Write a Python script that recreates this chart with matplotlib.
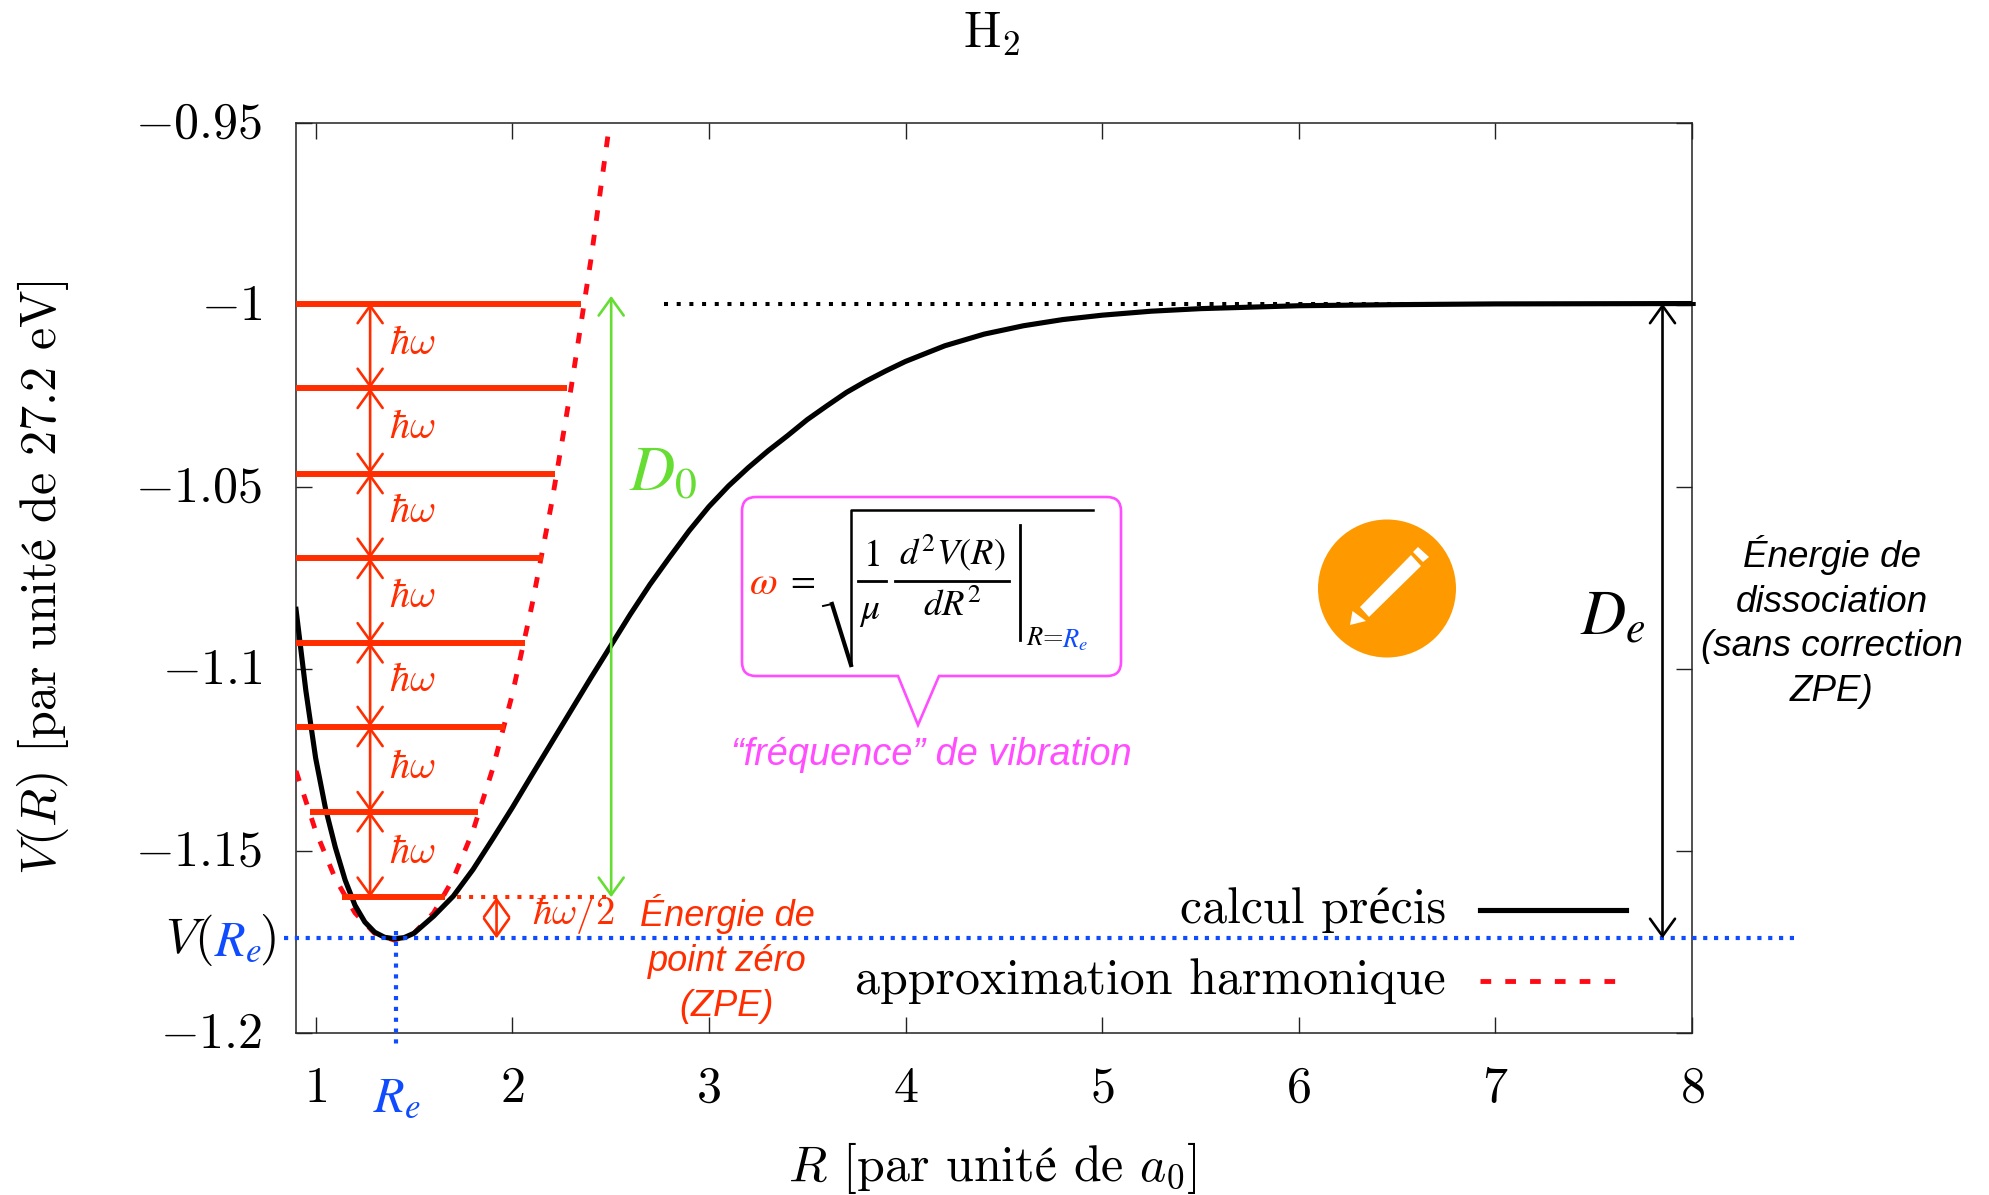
import matplotlib
matplotlib.use("Agg")
import matplotlib.pyplot as plt
from matplotlib.lines import Line2D
from matplotlib.patches import PathPatch, Circle, Polygon
from matplotlib.path import Path
from matplotlib.transforms import Affine2D
from matplotlib.font_manager import FontProperties

plt.rcParams['mathtext.fontset'] = 'cm'
plt.rcParams['font.family'] = ['cmr10', 'Liberation Serif']
plt.rcParams['axes.formatter.use_mathtext'] = True

# ---------- data ----------
R_exact = [0.90, 0.95, 1.00, 1.05, 1.10, 1.15, 1.20, 1.25, 1.30, 1.35, 1.40, 1.45, 1.50, 1.60, 1.70, 1.80, 1.90, 2.00,
           2.10, 2.20, 2.30, 2.40, 2.50, 2.60, 2.70, 2.80, 2.90, 3.00, 3.10, 3.20, 3.30, 3.40, 3.50, 3.60, 3.70, 3.80,
           3.90, 4.00, 4.20, 4.40, 4.60, 4.80, 5.00, 5.25, 5.50, 5.75, 6.00, 6.50, 7.00, 8.00]
V_exact = [-1.0836, -1.1059, -1.1245, -1.1383, -1.1490, -1.1580, -1.1649, -1.1695, -1.1723, -1.1737, -1.1741, -1.1738,
           -1.1726, -1.1679, -1.1624, -1.1551, -1.1467, -1.1381, -1.1291, -1.1202, -1.1113, -1.1024, -1.0937, -1.0850,
           -1.0768, -1.0693, -1.0620, -1.0554, -1.0497, -1.0447, -1.0401, -1.0359, -1.0315, -1.0277, -1.0240, -1.0209,
           -1.0181, -1.0155, -1.0112, -1.0080, -1.0057, -1.0040, -1.0028, -1.0017, -1.0010, -1.0006, -1.0002, -0.9999,
           -0.9997, -0.9996]
R_harm = [0.90, 1.00, 1.10, 1.20, 1.30, 1.40, 1.50, 1.60, 1.70, 1.80, 1.90, 2.00, 2.10, 2.20, 2.30, 2.40, 2.50]
V_harm = [-1.1280, -1.1445, -1.1576, -1.1670, -1.1726, -1.1745, -1.1726, -1.1670, -1.1576, -1.1445, -1.1275, -1.1070,
          -1.0825, -1.0545, -1.0225, -0.9875, -0.9482]
level_V = [-0.9996, -1.0229, -1.0463, -1.0696, -1.0928, -1.1158, -1.1392, -1.1627]
level_R0 = [0.90, 0.90, 0.90, 0.90, 0.90, 0.90, 0.97, 1.135]
level_R1 = [2.348, 2.277, 2.219, 2.155, 2.065, 1.961, 1.826, 1.658]
R_e = 1.407
V_e = -1.1740
V_diss = -0.9996
x_ticks = [1, 2, 3, 4, 5, 6, 7, 8]
y_ticks = [-0.95, -1.0, -1.05, -1.1, -1.15, -1.2]
x_labels = ['$1$', '$2$', '$3$', '$4$', '$5$', '$6$', '$7$', '$8$']
y_labels = ['$-0.95$', '$-1$', '$-1.05$', '$-1.1$', '$-1.15$', '$-1.2$']

RED = '#ff2d00'
DASHRED = '#ff0a14'
BLUE = '#0f4cff'
GREEN = '#66dd33'
PINK = '#ff4dff'
ORANGE = '#ff9900'
W, H = 1989, 1195

fig = plt.figure(figsize=(W / 100, H / 100), dpi=100)
ax = fig.add_axes([296 / W, 1 - 1033 / H, 1396 / W, 910 / H])
PX = Affine2D().scale(1 / W, -1 / H).translate(0, 1) + fig.transFigure

ax.set_xlim(0.9, 8)
ax.set_ylim(-1.2, -0.95)
ax.set_xticks(x_ticks)
ax.set_xticklabels(x_labels)
ax.set_yticks(y_ticks)
ax.set_yticklabels(y_labels)
ax.tick_params(direction='in', length=11.5, width=1.0, top=True, right=True, labelsize=36, color='#222222')
ax.tick_params(axis='x', pad=24)
ax.tick_params(axis='y', pad=24)
for s in ax.spines.values():
    s.set_linewidth(1.1)
    s.set_color('#222222')

# ---------- curves ----------
line_exact, = ax.plot(R_exact, V_exact, color='black', lw=3.7, label='calcul précis', zorder=4)
line_harm, = ax.plot(R_harm, V_harm, color=DASHRED, lw=3.5, ls=(0, (2.2, 2.9)), dash_capstyle='butt',
                     label='approximation harmonique', zorder=3)

# reference lines
ax.plot([2.77, 8.04], [V_diss, V_diss], color='black', lw=2.9, ls=(0, (1, 2.15)), clip_on=False, zorder=3)
ax.plot([0.84, 8.53], [V_e, V_e], color=BLUE, lw=3, ls=(0, (1, 1.6)), clip_on=False, zorder=5)
ax.plot([R_e, R_e], [V_e + 0.002, -1.203], color=BLUE, lw=3, ls=(0, (1, 1.6)), clip_on=False, zorder=5)
ax.plot([1.72, 2.5], [level_V[-1], level_V[-1]], color=RED, lw=2.9, ls=(0, (1, 2.0)), zorder=3)

# vibrational levels and spacing arrows
for v, r0, r1 in zip(level_V, level_R0, level_R1):
    ax.plot([r0, r1], [v, v], color=RED, lw=4.3, solid_capstyle='butt', zorder=6)


def arrow(x, y0, y1, color):
    ax.annotate('', xy=(x, y1), xytext=(x, y0), zorder=7,
                arrowprops=dict(arrowstyle='<->,head_length=0.5,head_width=0.36', mutation_scale=25,
                                color=color, lw=1.9, shrinkA=0, shrinkB=0))


for a, b in zip(level_V[:-1], level_V[1:]):
    arrow(1.277, b, a, RED)
arrow(1.92, V_e, level_V[-1], RED)
arrow(2.503, level_V[-1], -0.9975, GREEN)
arrow(7.85, V_e, V_diss, 'black')

# hbar omega labels
for yy in [344, 428, 512, 597, 681, 768, 853]:
    fig.text(412, yy, r'$\hbar\omega$', transform=PX, color=RED, fontsize=29, ha='center', va='center', zorder=8)
fig.text(573, 915, r'$\hbar\omega/2$', transform=PX, color=RED, fontsize=28, ha='center', va='center')

# large math labels
fig.text(663, 474, r'$D_0$', transform=PX, color=GREEN, fontsize=45, ha='center', va='center', math_fontfamily='stix')
fig.text(1613, 618, r'$D_e$', transform=PX, color='black', fontsize=45, ha='center', va='center', math_fontfamily='stix')
fig.text(397, 1098, r'$R_e$', transform=PX, color=BLUE, fontsize=36, ha='center', va='center', math_fontfamily='stix')
fig.text(213, 940, r'$V($', transform=PX, color='black', fontsize=36, ha='right', va='center')
fig.text(214, 942, r'$R_e$', transform=PX, color=BLUE, fontsize=36, ha='left', va='center', math_fontfamily='stix')
fig.text(259, 940, r'$)$', transform=PX, color='black', fontsize=36, ha='left', va='center')

# title and axis labels
fig.text(992, 34, r'H$_2$', transform=PX, fontsize=36, ha='center', va='center')
fig.text(992, 1168, r'$R$ [par unit$\mathrm{é}$ de $a_0$]', transform=PX, fontsize=36, ha='center', va='center')
fig.text(43, 578, r'$V(R)$ [par unit$\mathrm{é}$ de 27.2 eV]', transform=PX, fontsize=36, rotation=90, ha='center', va='center')

# sans annotations
sans = dict(family='Liberation Sans', style='italic', ha='center', va='center', transform=PX, linespacing=1.36)
fig.text(1832, 622, 'Énergie de\ndissociation\n(sans correction\nZPE)', color='black', fontsize=26.5, **sans)
fig.text(727, 959, 'Énergie de\npoint zéro\n(ZPE)', color=RED, fontsize=26, **sans)
fig.text(931, 755, '“fréquence” de vibration', color=PINK, fontsize=27.3, **sans)

# callout
bx0, bx1, by0, by1, c = 742, 1121, 497, 676, 14
verts = [(bx0 + c, by0), (bx1 - c, by0), (bx1, by0), (bx1, by0 + c), (bx1, by1 - c), (bx1, by1), (bx1 - c, by1),
         (939, by1), (918, 725), (898, by1), (bx0 + c, by1), (bx0, by1), (bx0, by1 - c), (bx0, by0 + c), (bx0, by0),
         (bx0 + c, by0)]
codes = [Path.MOVETO, Path.LINETO, Path.CURVE3, Path.CURVE3, Path.LINETO, Path.CURVE3, Path.CURVE3, Path.LINETO,
         Path.LINETO, Path.LINETO, Path.LINETO, Path.CURVE3, Path.CURVE3, Path.LINETO, Path.CURVE3, Path.CURVE3]
fig.add_artist(PathPatch(Path(verts, codes), transform=PX, fc='none', ec=PINK, lw=1.9, zorder=6))
# formula
form = dict(transform=PX, ha='center', va='center', math_fontfamily='stix')
fig.text(763, 584, r'$\omega$', color=RED, fontsize=29, **form)
fig.text(800, 581, r'$=$', color='black', fontsize=26, **form)
fig.add_artist(Line2D([823, 832], [606, 604], transform=PX, color='black', lw=1.4))
fig.add_artist(Line2D([832, 851], [604, 665], transform=PX, color='black', lw=3))
fig.add_artist(Line2D([851, 851, 1093], [665, 510, 510], transform=PX, color='black', lw=1.8))
fig.add_artist(Line2D([1020.5, 1020.5], [525, 640], transform=PX, color='black', lw=2))
fig.add_artist(Line2D([858, 886], [581, 581], transform=PX, color='black', lw=2))
fig.add_artist(Line2D([895, 1009], [581, 581], transform=PX, color='black', lw=2))
fig.text(871, 556, r'$1$', fontsize=27, **form)
fig.text(870, 612, r'$\mu$', fontsize=27, **form)
fig.text(952, 553, r'$d^2V(R)$', fontsize=26.5, **form)
fig.text(952, 606, r'$dR^2$', fontsize=26.5, **form)
fig.text(1045, 638, r'$R$=', color='black', fontsize=19, **form)
fig.text(1075, 640, r'$R_e$', color=BLUE, fontsize=19, **form)

# pencil icon
fig.add_artist(Circle((1387, 588.5), 69, transform=PX, fc=ORANGE, ec='none', zorder=6))
for pts in ([(1360, 607), (1369, 617), (1421, 566), (1411, 555)],
            [(1352.5, 611), (1350, 625), (1366, 621)],
            [(1413, 552), (1418, 547), (1429, 557), (1423, 562)]):
    fig.add_artist(Polygon(pts, closed=True, transform=PX, fc='white', ec='none', zorder=7))

# legend
ax.legend(handles=[line_exact, line_harm], loc='lower right', bbox_to_anchor=(0.9527, 0.032), frameon=False,
          markerfirst=False, borderaxespad=0, borderpad=0, handlelength=2.92, handletextpad=0.68, labelspacing=0.5,
          handleheight=0.05, prop=FontProperties(family=['cmr10', 'Liberation Serif'], size=36))

fig.canvas.draw()
for t in ax.get_yticklabels():
    t.set_transform(t.get_transform() + Affine2D().translate(0, 3))

fig.savefig('out.png', dpi=100)
